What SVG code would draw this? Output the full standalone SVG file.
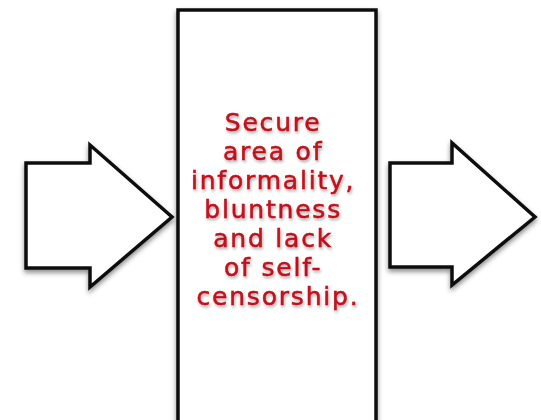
<svg xmlns="http://www.w3.org/2000/svg" width="541" height="420" viewBox="0 0 541 420">
<defs>
<filter id="sh" x="-20%" y="-20%" width="140%" height="140%">
<feDropShadow dx="0" dy="3" stdDeviation="2.5" flood-color="#000" flood-opacity="0.45"/>
</filter>
<filter id="tsh" x="-10%" y="-10%" width="120%" height="120%">
<feDropShadow dx="1" dy="2" stdDeviation="1.5" flood-color="#000" flood-opacity="0.35"/>
</filter>
</defs>
<style>
.shape{fill:#fff;stroke:#111;stroke-width:3.5;stroke-linejoin:miter;filter:url(#sh)}
.lbl{font-family:"DejaVu Sans",sans-serif;font-size:25px;letter-spacing:1.8px;fill:#c0121c;stroke:#c0121c;stroke-width:0.5;text-anchor:middle;filter:url(#tsh)}
</style>
<rect width="541" height="420" fill="#fff"/>
<g id="connectors">
<polygon id="arrow-left" class="shape" points="26,163 90,163 90,145 172,217 90,287 90,268 26,268"/>
<polygon id="arrow-right" class="shape" points="390,163 452,163 452,143 535,217 452,285 452,267 390,267"/>
</g>
<g id="box">
<rect class="shape" x="178" y="10" width="198" height="420"/>
<text class="lbl" x="278">
<tspan x="278" y="131">Secure</tspan>
<tspan x="278" y="160">area of</tspan>
<tspan x="278" y="189">informality,</tspan>
<tspan x="278" y="218">bluntness</tspan>
<tspan x="278" y="247">and lack</tspan>
<tspan x="278" y="276">of self-</tspan>
<tspan x="278" y="305">censorship.</tspan>
</text>
</g>
</svg>
